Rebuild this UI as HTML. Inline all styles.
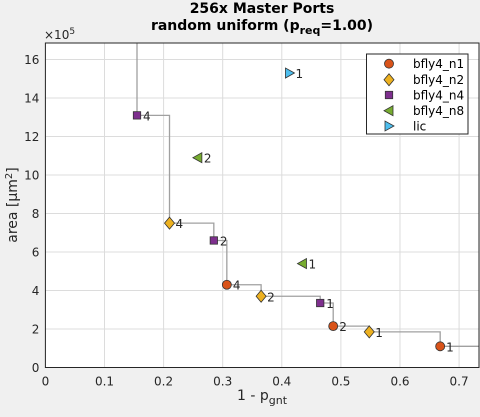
<!DOCTYPE html>
<html><head><meta charset="utf-8"><style>
body{margin:0;background:#f0f0f0;}
svg{display:block;font-family:"DejaVu Sans","Liberation Sans",sans-serif;}
</style></head><body>
<svg id="chart" width="480" height="417">
<rect x="0" y="0" width="480" height="417" fill="#f0f0f0"/>
<g id="g"></g>
</svg>
<script>
const seriesNames=["bfly4_n1","bfly4_n2","bfly4_n4","bfly4_n8","lic"];
const n1X=[0.307,0.487,0.668], n1Y=[4.3,2.15,1.1], n1L=["4","2","1"];
const n2X=[0.21,0.365,0.548], n2Y=[7.5,3.7,1.85], n2L=["4","2","1"];
const n4X=[0.155,0.285,0.465], n4Y=[13.1,6.6,3.35], n4L=["4","2","1"];
const n8X=[0.258,0.435], n8Y=[10.9,5.4], n8L=["2","1"];
const licX=[0.413], licY=[15.3], licL=["1"];
const xTicks=[0,0.1,0.2,0.3,0.4,0.5,0.6,0.7];
const yTicks=[0,2,4,6,8,10,12,14,16];

const L=45.4,R=479,T=43,B=367.5,XMAX=0.7337,YMAX=16.86;
const sx=v=>L+v/XMAX*(R-L), sy=v=>B-v/YMAX*(B-T);
const NS="http://www.w3.org/2000/svg", g=document.getElementById('g');
function mk(t,a,p){const e=document.createElementNS(NS,t);for(const k in a)e.setAttribute(k,a[k]);(p||g).appendChild(e);return e;}

const bg=mk('rect',{x:L,y:T,width:R-L,height:B-T,fill:'#fff'});


xTicks.forEach(v=>{const l=mk('line',{x1:sx(v),x2:sx(v),y1:T,y2:B,stroke:'#dcdcdc','stroke-width':1});


const t=mk('text',{x:sx(v),y:B+18,'text-anchor':'middle','font-size':12,fill:'#262626'});t.textContent=v;

});
yTicks.forEach(v=>{const l=mk('line',{x1:L,x2:R,y1:sy(v),y2:sy(v),stroke:'#dcdcdc','stroke-width':1});


const t=mk('text',{x:L-6,y:sy(v)+4.5,'text-anchor':'end','font-size':12,fill:'#262626'});t.textContent=v;

});

const all=[];
[[n1X,n1Y],[n2X,n2Y],[n4X,n4Y],[n8X,n8Y],[licX,licY]].forEach(([X,Y])=>X.forEach((x,i)=>all.push([x,Y[i]])));
all.sort((a,b)=>a[0]-b[0]);
const front=[];let best=Infinity;all.forEach(p=>{if(p[1]<best){front.push(p);best=p[1];}});
let d='M'+sx(front[0][0])+','+T;
front.forEach((p,i)=>{d+=' L'+sx(p[0])+','+sy(p[1]);const nx=i+1<front.length?sx(front[i+1][0]):R;d+=' L'+nx+','+sy(p[1]);});
const pl=mk('path',{d:d,fill:'none',stroke:'#a0a0a0','stroke-width':1.3});



function marker(type,cx,cy,parent){
 let e;
 if(type==='c')e=mk('circle',{cx:cx,cy:cy,r:4.5,fill:'#d95319',stroke:'#333','stroke-width':0.8},parent);
 else if(type==='d')e=mk('polygon',{points:`${cx},${cy-6} ${cx+5},${cy} ${cx},${cy+6} ${cx-5},${cy}`,fill:'#edb120',stroke:'#333','stroke-width':0.8},parent);
 else if(type==='s')e=mk('rect',{x:cx-3.7,y:cy-3.7,width:7.4,height:7.4,fill:'#7e2f8e',stroke:'#333','stroke-width':0.8},parent);
 else if(type==='l')e=mk('polygon',{points:`${cx-5},${cy} ${cx+4},${cy-5} ${cx+4},${cy+5}`,fill:'#77ac30',stroke:'#333','stroke-width':0.8},parent);
 else e=mk('polygon',{points:`${cx+5},${cy} ${cx-4},${cy-5} ${cx-4},${cy+5}`,fill:'#4dbeee',stroke:'#333','stroke-width':0.8},parent);
 return e;
}
const series=[[n1X,n1Y,n1L,'c'],[n2X,n2Y,n2L,'d'],[n4X,n4Y,n4L,'s'],[n8X,n8Y,n8L,'l'],[licX,licY,licL,'r']];
series.forEach(([X,Y,Lb,t],si)=>X.forEach((x,i)=>{
 const m=marker(t,sx(x),sy(Y[i]));
 
 
 const tx=mk('text',{x:sx(x)+6,y:sy(Y[i])+5,'font-size':12,fill:'#262626'});tx.textContent=Lb[i];
 
 
}));
const ax=mk('rect',{x:L,y:T,width:R-L,height:B-T,fill:'none',stroke:'#262626','stroke-width':1});



const lg=mk('g',{});


mk('rect',{x:366.5,y:54,width:101.5,height:80,fill:'#fff',stroke:'#262626','stroke-width':1},lg);
const ly=[63.7,79.7,95,110.7,126];
series.forEach((s,i)=>{
 const m=marker(s[3],389,ly[i],lg);
 
 
 const t=mk('text',{x:413,y:ly[i]+4.5,'font-size':12,fill:'#000'},lg);t.textContent=seriesNames[i];
 
 
});
</script>
<svg style="position:absolute;left:0;top:0" width="480" height="417">
<text x="262" y="13" text-anchor="middle" font-size="14" font-weight="bold" fill="#000">256x Master Ports</text>
<text x="262" y="30" text-anchor="middle" font-size="14" font-weight="bold" fill="#000">random uniform (p<tspan font-size="11" dy="4">req</tspan><tspan dy="-4">=1.00)</tspan></text>
<text x="44" y="39" font-size="12" fill="#262626">×10<tspan font-size="9" dy="-5">5</tspan></text>
<text x="262" y="400" text-anchor="middle" font-size="14" fill="#262626">1 - p<tspan font-size="11" dy="4">gnt</tspan></text>
<text transform="translate(17,205) rotate(-90)" text-anchor="middle" font-size="14" fill="#262626">area [μm<tspan font-size="10" dy="-5">2</tspan><tspan dy="5">]</tspan></text>
</svg>
</body></html>
